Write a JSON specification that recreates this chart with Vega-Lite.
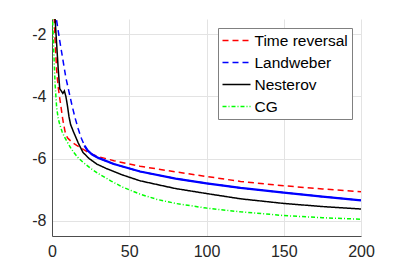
{
  "$schema": "https://vega.github.io/schema/vega-lite/v6.json",
  "autosize": {"type": "none"},
  "width": 309,
  "height": 217,
  "padding": {"left": 52, "top": 19, "right": 38, "bottom": 30},
  "background": "white",
  "config": {
    "view": {"stroke": null},
    "font": "Liberation Sans",
    "axis": {
      "labelFont": "Liberation Sans",
      "labelFontSize": 16,
      "labelColor": "#262626",
      "labelFlush": false,
      "domainColor": "#4d4d4d",
      "domainWidth": 1,
      "gridColor": "#e3e3e3",
      "gridWidth": 1,
      "ticks": false,
      "title": null
    },
    "legend": {
      "orient": "none",
      "legendX": 166,
      "legendY": 9,
      "padding": 3.5,
      "strokeColor": "#808080",
      "fillColor": "white",
      "labelFont": "Liberation Sans",
      "labelFontSize": 15.5,
      "labelColor": "#000000",
      "labelOffset": 15,
      "rowPadding": 4,
      "symbolType": "M-1,0H2.5",
      "symbolSize": 256,
      "symbolStrokeWidth": 1.5,
      "title": null
    }
  },
  "data": {
    "values": [
      {"method": "Time reversal", "x": 1, "y": -0.8},
      {"method": "Time reversal", "x": 2, "y": -2.2},
      {"method": "Time reversal", "x": 3, "y": -3.15},
      {"method": "Time reversal", "x": 4, "y": -3.7},
      {"method": "Time reversal", "x": 5, "y": -4.05},
      {"method": "Time reversal", "x": 6, "y": -4.4},
      {"method": "Time reversal", "x": 7, "y": -4.75},
      {"method": "Time reversal", "x": 8.5, "y": -5.15},
      {"method": "Time reversal", "x": 10, "y": -5.33},
      {"method": "Time reversal", "x": 13, "y": -5.48},
      {"method": "Time reversal", "x": 16, "y": -5.58},
      {"method": "Time reversal", "x": 20, "y": -5.7},
      {"method": "Time reversal", "x": 24, "y": -5.82},
      {"method": "Time reversal", "x": 30, "y": -5.94},
      {"method": "Time reversal", "x": 40, "y": -6.07},
      {"method": "Time reversal", "x": 57, "y": -6.25},
      {"method": "Time reversal", "x": 80, "y": -6.43},
      {"method": "Time reversal", "x": 100, "y": -6.58},
      {"method": "Time reversal", "x": 122, "y": -6.74},
      {"method": "Time reversal", "x": 150, "y": -6.88},
      {"method": "Time reversal", "x": 175, "y": -6.98},
      {"method": "Time reversal", "x": 200, "y": -7.07},

      {"method": "Landweber", "x": 1, "y": -0.9},
      {"method": "Landweber", "x": 3, "y": -1.55},
      {"method": "Landweber", "x": 5, "y": -2.2},
      {"method": "Landweber", "x": 7, "y": -2.8},
      {"method": "Landweber", "x": 9, "y": -3.4},
      {"method": "Landweber", "x": 11, "y": -3.85},
      {"method": "Landweber", "x": 13, "y": -4.3},
      {"method": "Landweber", "x": 15, "y": -4.7},
      {"method": "Landweber", "x": 17, "y": -5.05},
      {"method": "Landweber", "x": 19, "y": -5.35},
      {"method": "Landweber", "x": 21, "y": -5.58},
      {"method": "Landweber", "x": 23, "y": -5.74},
      {"method": "Landweber", "x": 26, "y": -5.87},
      {"method": "Landweber", "x": 30, "y": -5.98},
      {"method": "Landweber", "x": 40, "y": -6.18},
      {"method": "Landweber", "x": 57, "y": -6.42},
      {"method": "Landweber", "x": 80, "y": -6.65},
      {"method": "Landweber", "x": 100, "y": -6.8},
      {"method": "Landweber", "x": 122, "y": -6.95},
      {"method": "Landweber", "x": 150, "y": -7.1},
      {"method": "Landweber", "x": 175, "y": -7.23},
      {"method": "Landweber", "x": 200, "y": -7.35},

      {"method": "Nesterov", "x": 1, "y": -0.8},
      {"method": "Nesterov", "x": 2, "y": -1.5},
      {"method": "Nesterov", "x": 3, "y": -2.3},
      {"method": "Nesterov", "x": 4, "y": -3.1},
      {"method": "Nesterov", "x": 5, "y": -3.75},
      {"method": "Nesterov", "x": 6, "y": -3.82},
      {"method": "Nesterov", "x": 7, "y": -3.9},
      {"method": "Nesterov", "x": 8, "y": -3.82},
      {"method": "Nesterov", "x": 9, "y": -4.0},
      {"method": "Nesterov", "x": 10, "y": -4.3},
      {"method": "Nesterov", "x": 11, "y": -4.65},
      {"method": "Nesterov", "x": 12, "y": -4.9},
      {"method": "Nesterov", "x": 14, "y": -5.15},
      {"method": "Nesterov", "x": 17, "y": -5.5},
      {"method": "Nesterov", "x": 20, "y": -5.8},
      {"method": "Nesterov", "x": 24, "y": -6.0},
      {"method": "Nesterov", "x": 29, "y": -6.18},
      {"method": "Nesterov", "x": 35, "y": -6.32},
      {"method": "Nesterov", "x": 45, "y": -6.52},
      {"method": "Nesterov", "x": 57, "y": -6.72},
      {"method": "Nesterov", "x": 80, "y": -6.97},
      {"method": "Nesterov", "x": 100, "y": -7.13},
      {"method": "Nesterov", "x": 122, "y": -7.3},
      {"method": "Nesterov", "x": 150, "y": -7.45},
      {"method": "Nesterov", "x": 175, "y": -7.55},
      {"method": "Nesterov", "x": 200, "y": -7.63},

      {"method": "CG", "x": 0, "y": -1.0},
      {"method": "CG", "x": 1, "y": -2.35},
      {"method": "CG", "x": 2, "y": -3.6},
      {"method": "CG", "x": 3, "y": -4.35},
      {"method": "CG", "x": 4, "y": -4.7},
      {"method": "CG", "x": 5, "y": -4.9},
      {"method": "CG", "x": 6.5, "y": -5.13},
      {"method": "CG", "x": 8, "y": -5.3},
      {"method": "CG", "x": 10, "y": -5.48},
      {"method": "CG", "x": 12, "y": -5.65},
      {"method": "CG", "x": 14, "y": -5.8},
      {"method": "CG", "x": 17, "y": -5.98},
      {"method": "CG", "x": 20, "y": -6.12},
      {"method": "CG", "x": 25, "y": -6.32},
      {"method": "CG", "x": 31, "y": -6.52},
      {"method": "CG", "x": 38, "y": -6.72},
      {"method": "CG", "x": 46, "y": -6.93},
      {"method": "CG", "x": 57, "y": -7.15},
      {"method": "CG", "x": 68, "y": -7.32},
      {"method": "CG", "x": 80, "y": -7.45},
      {"method": "CG", "x": 100, "y": -7.6},
      {"method": "CG", "x": 122, "y": -7.72},
      {"method": "CG", "x": 150, "y": -7.84},
      {"method": "CG", "x": 175, "y": -7.91},
      {"method": "CG", "x": 200, "y": -7.96}
    ]
  },
  "layer": [
    {
      "mark": {"type": "line", "clip": true, "strokeWidth": 1.5},
      "encoding": {
        "x": {
          "field": "x", "type": "quantitative",
          "scale": {"domain": [0, 200], "nice": false, "zero": false},
          "axis": {"values": [0, 50, 100, 150, 200], "labelPadding": 7, "grid": true}
        },
        "y": {
          "field": "y", "type": "quantitative",
          "scale": {"domain": [-8.5, -1.5], "nice": false, "zero": false},
          "axis": {"values": [-8, -6, -4, -2], "labelPadding": 6, "grid": true, "labelExpr": "'' + datum.value"}
        },
        "color": {
          "field": "method", "type": "nominal",
          "scale": {"domain": ["Time reversal", "Landweber", "Nesterov", "CG"], "range": ["#ff0000", "#0000ff", "#000000", "#00ff00"]},
          "legend": {}
        },
        "strokeDash": {
          "field": "method", "type": "nominal",
          "scale": {"domain": ["Time reversal", "Landweber", "Nesterov", "CG"], "range": [[6, 4], [6, 4], [1, 0], [4, 2, 1, 2]]},
          "legend": {}
        }
      }
    },
    {
      "transform": [{"filter": "datum.method == 'Landweber' && datum.x >= 21"}],
      "mark": {"type": "line", "clip": true, "strokeWidth": 2.2, "color": "#0000ff"},
      "encoding": {
        "x": {"field": "x", "type": "quantitative"},
        "y": {"field": "y", "type": "quantitative"}
      }
    }
  ]
}
